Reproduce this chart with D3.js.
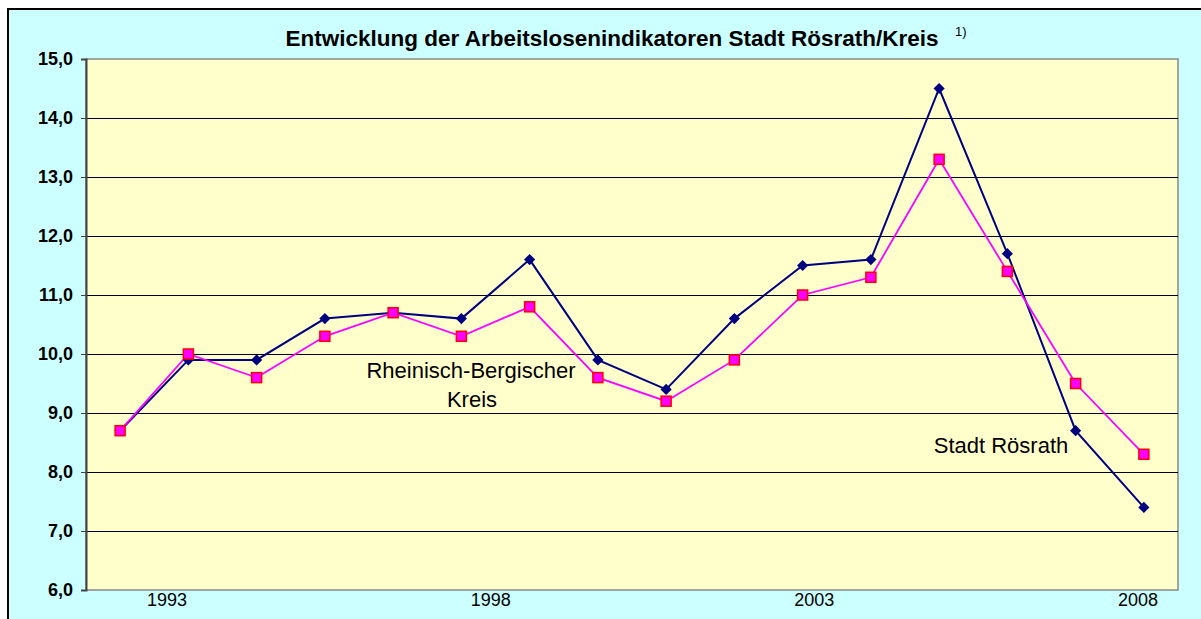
<!DOCTYPE html>
<html>
<head>
<meta charset="utf-8">
<script src="https://cdn.jsdelivr.net/npm/d3@7"></script>
<style>
  body { margin: 0; background: #fff; }
  text { font-family: "Liberation Sans", Arial, sans-serif; }
</style>
</head>
<body>
<svg width="1201" height="619"></svg>
<script>
const years = [1993, 1994, 1995, 1996, 1997, 1998, 1999, 2000, 2001, 2002, 2003, 2004, 2005, 2006, 2007, 2008];
const roesrath = [8.7, 9.9, 9.9, 10.6, 10.7, 10.6, 11.6, 9.9, 9.4, 10.6, 11.5, 11.6, 14.5, 11.7, 8.7, 7.4];
const kreis = [8.7, 10.0, 9.6, 10.3, 10.7, 10.3, 10.8, 9.6, 9.2, 9.9, 11.0, 11.3, 13.3, 11.4, 9.5, 8.3];
const yearLabels = [1993, 1998, 2003, 2008];
const yTicks = [6, 7, 8, 9, 10, 11, 12, 13, 14, 15];

const svg = d3.select("svg");
const plot = { left: 86, top: 59, right: 1178, bottom: 590 };

// outer chart area
svg.append("rect")
  .attr("x", 8).attr("y", 9).attr("width", 1200).attr("height", 620)
  .attr("fill", "#ccffff").attr("stroke", "#000").attr("stroke-width", 2);

const x = d3.scaleBand().domain(years).range([plot.left, plot.right]);
const y = d3.scaleLinear().domain([6, 15]).range([plot.bottom, plot.top]);
// year labels sit on their own slightly offset scale (as in the original)
const xLab = d3.scaleLinear().domain([1993, 2008]).range([167, 1138]);
const fmt = (d) => d3.format(".1f")(d).replace(".", ",");

// plot area
svg.append("rect")
  .attr("x", plot.left).attr("y", plot.top)
  .attr("width", plot.right - plot.left).attr("height", plot.bottom - plot.top)
  .attr("fill", "#ffffcc").attr("stroke", "#888").attr("stroke-width", 1.5);

// gridlines
svg.append("g")
  .selectAll("line")
  .data(yTicks.slice(1, -1))
  .enter()
  .append("line")
  .attr("x1", plot.left).attr("x2", plot.right)
  .attr("y1", (d) => Math.round(y(d)) + 0.5).attr("y2", (d) => Math.round(y(d)) + 0.5)
  .attr("stroke", "#000").attr("stroke-width", 1);

// y axis
const yAxis = svg.append("g")
  .attr("transform", "translate(" + plot.left + ",0)")
  .call(d3.axisLeft(y).tickValues(yTicks).tickFormat(fmt).tickSize(5).tickPadding(8));
yAxis.select(".domain").attr("stroke", "#444").attr("stroke-width", 2);
yAxis.selectAll(".tick line").attr("stroke", "#444");
yAxis.selectAll("text")
  .attr("font-size", 18).attr("font-weight", "bold").attr("fill", "#000")
  .attr("font-family", "Liberation Sans, Arial, sans-serif");

// x labels
svg.append("g")
  .selectAll("text")
  .data(yearLabels)
  .enter()
  .append("text")
  .attr("x", (d) => xLab(d))
  .attr("y", plot.bottom + 16)
  .attr("text-anchor", "middle")
  .attr("font-size", 18)
  .text((d) => d);

// lines
const line = (vals) => d3.line()
  .x((d, i) => x(years[i]) + x.bandwidth() / 2)
  .y((d) => y(d))(vals);

svg.append("path")
  .attr("d", line(roesrath))
  .attr("fill", "none").attr("stroke", "#000080").attr("stroke-width", 2);

svg.append("path")
  .attr("d", line(kreis))
  .attr("fill", "none").attr("stroke", "#ff00ff").attr("stroke-width", 1.8);

// markers
svg.append("g")
  .selectAll("path")
  .data(roesrath)
  .enter()
  .append("path")
  .attr("d", d3.symbol().type(d3.symbolDiamond2).size(80))
  .attr("transform", (d, i) => "translate(" + (x(years[i]) + x.bandwidth() / 2) + "," + y(d) + ")")
  .attr("fill", "#000080");

svg.append("g")
  .selectAll("rect")
  .data(kreis)
  .enter()
  .append("rect")
  .attr("x", (d, i) => x(years[i]) + x.bandwidth() / 2 - 5)
  .attr("y", (d) => y(d) - 5)
  .attr("width", 10).attr("height", 10)
  .attr("fill", "#ff00ff").attr("stroke", "#ff0000").attr("stroke-width", 1.5);

// title
svg.append("text")
  .attr("x", 612).attr("y", 46)
  .attr("text-anchor", "middle")
  .attr("font-size", 22.5).attr("font-weight", "bold")
  .text("Entwicklung der Arbeitslosenindikatoren Stadt Rösrath/Kreis");
svg.append("text")
  .attr("x", 955).attr("y", 36)
  .attr("font-size", 13)
  .text("1)");

// series labels
svg.append("text").attr("x", 471).attr("y", 378).attr("text-anchor", "middle")
  .attr("font-size", 22).text("Rheinisch-Bergischer");
svg.append("text").attr("x", 472).attr("y", 407).attr("text-anchor", "middle")
  .attr("font-size", 22).text("Kreis");
svg.append("text").attr("x", 1001).attr("y", 453).attr("text-anchor", "middle")
  .attr("font-size", 22).text("Stadt Rösrath");
</script>
</body>
</html>
